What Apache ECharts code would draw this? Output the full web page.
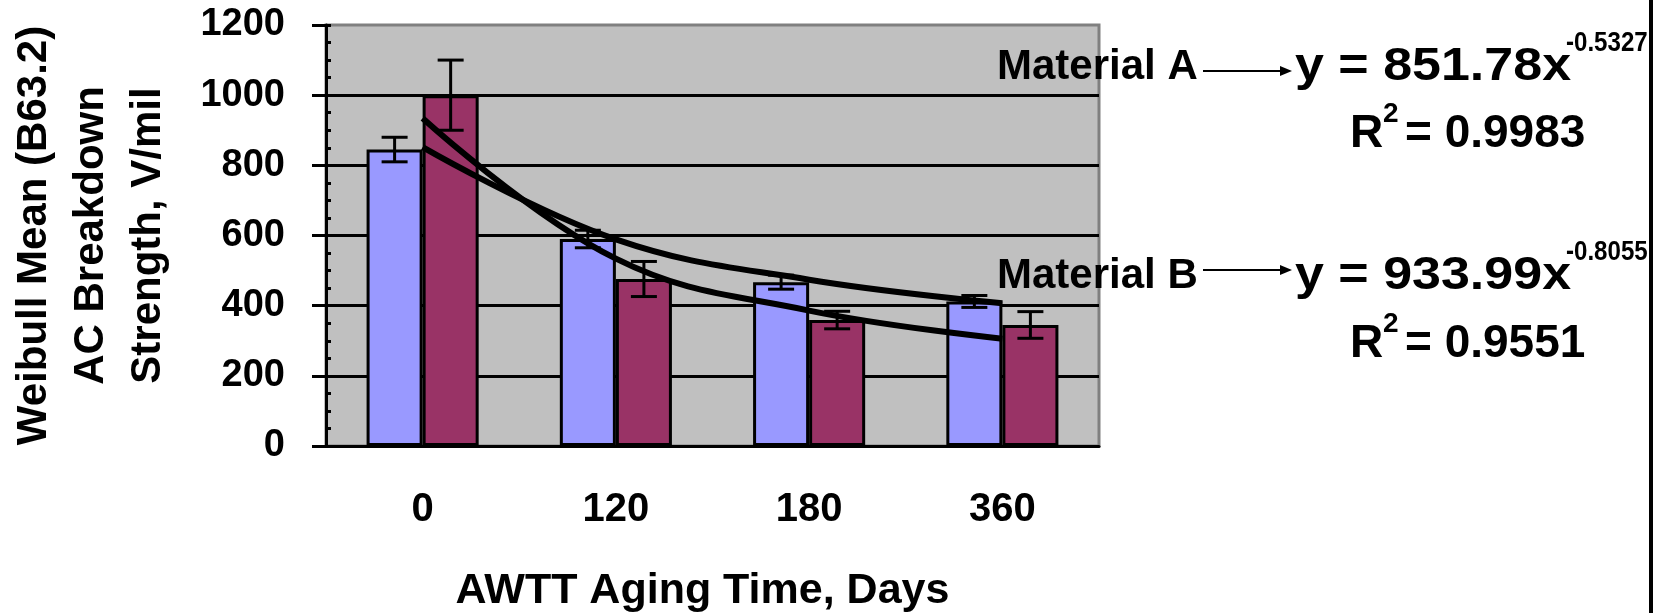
<!DOCTYPE html>
<html>
<head>
<meta charset="utf-8">
<script src="https://cdn.jsdelivr.net/npm/echarts@6/dist/echarts.min.js"></script>
<style>
  html, body { margin: 0; padding: 0; background: #fff; }
  #main { width: 1658px; height: 613px; }
</style>
</head>
<body>
<div id="main"></div>
<script>
// aging time categories (days)
var categories = ['0', '120', '180', '360'];
// Weibull mean breakdown strength, V/mil
var materialA = [845, 590, 467, 412];
var materialAErr = [35, 25, 20, 17];
var materialB = [1000, 476, 359, 345];
var materialBErr = [100, 50, 25, 38];
// power trend lines at the category centres
var trendA = [852, 589, 474, 407];
var trendB = [934, 534, 386, 306];
var yMin = 0, yMax = 1200, yStep = 200, yMinorStep = 50;

var FONT = '"Liberation Sans", Arial, sans-serif';
var GAP = 0.42;

var chart = echarts.init(document.getElementById('main'));

function errData(vals, errs) {
    return vals.map(function (v, i) { return [i, v - errs[i], v + errs[i]]; });
}

function errorBars(side) {
    return function (params, api) {
        var i = api.value(0);
        var lo = api.coord([i, api.value(1)]);
        var hi = api.coord([i, api.value(2)]);
        var bw = api.size([1, 0])[0] * (1 - GAP) / 2;
        var x = lo[0] + side * bw / 2;
        var cap = 13;
        var st = { stroke: '#000', lineWidth: 3 };
        return {
            type: 'group',
            children: [
                { type: 'line', shape: { x1: x, y1: lo[1], x2: x, y2: hi[1] }, style: st },
                { type: 'line', shape: { x1: x - cap, y1: lo[1], x2: x + cap, y2: lo[1] }, style: st },
                { type: 'line', shape: { x1: x - cap, y1: hi[1], x2: x + cap, y2: hi[1] }, style: st }
            ]
        };
    };
}

function txt(text, x, y, size, extra) {
    var style = {
        text: text, x: 0, y: 0,
        fontSize: size, fontWeight: 'bold', fontFamily: FONT,
        fill: '#000',
        align: 'left', verticalAlign: 'middle',
        textAlign: 'left', textVerticalAlign: 'middle'
    };
    var el = { type: 'text', x: x, y: y, z: 100, style: style };
    if (extra) {
        for (var k in extra) {
            if (k === 'scaleX') el.scaleX = extra[k];
            else style[k] = extra[k];
        }
    }
    return el;
}

function arrow(x1, x2, y) {
    return [
        { type: 'line', z: 100, shape: { x1: x1, y1: y, x2: x2 - 10, y2: y }, style: { stroke: '#000', lineWidth: 2 } },
        { type: 'polygon', z: 100, shape: { points: [[x2 - 12, y - 5], [x2, y], [x2 - 12, y + 5]] }, style: { fill: '#000' } }
    ];
}

var shadow = { textShadowColor: '#fff', textShadowOffsetX: 2, textShadowOffsetY: 2, textShadowBlur: 0 };
var wide = { scaleX: 1.13 };
var narrow = { scaleX: 0.86 };

var graphics = [
    txt('Material A', 997, 67, 42, shadow),
    txt('y = 851.78x', 1295, 67, 46, wide),
    txt('-0.5327', 1566, 43, 28, narrow),
    txt('R', 1350, 134, 46),
    txt('2', 1383, 114, 28),
    txt('= 0.9983', 1405, 134, 46),
    txt('Material B', 997, 276, 42, shadow),
    txt('y = 933.99x', 1295, 276, 46, wide),
    txt('-0.8055', 1566, 252, 28, narrow),
    txt('R', 1350, 344, 46),
    txt('2', 1383, 324, 28),
    txt('= 0.9551', 1405, 344, 46),
    { type: 'line', z: 100, shape: { x1: 1651, y1: 0, x2: 1651, y2: 613 }, style: { stroke: '#000', lineWidth: 4 } }
].concat(arrow(1203, 1292, 71)).concat(arrow(1203, 1292, 270));

var option = {
    backgroundColor: '#fff',
    animation: false,
    grid: {
        left: 326, top: 25, right: 559, bottom: 167,
        outerBoundsMode: 'none',
        show: true,
        backgroundColor: '#C0C0C0',
        borderColor: '#808080',
        borderWidth: 3
    },
    xAxis: {
        type: 'category',
        data: categories,
        name: 'AWTT Aging Time, Days',
        nameLocation: 'middle',
        nameGap: 124,
        nameTextStyle: { fontSize: 43, fontWeight: 'bold', fontFamily: FONT, color: '#000', padding: [0, 20, 0, 0] },
        axisLine: { lineStyle: { color: '#000', width: 3 } },
        axisTick: { length: 12, lineStyle: { color: '#000', width: 3 } },
        axisLabel: { margin: 44, fontSize: 40, fontWeight: 'bold', fontFamily: FONT, color: '#000' },
        splitLine: { show: false }
    },
    yAxis: [{
        type: 'value',
        min: yMin, max: yMax, interval: yStep,
        name: 'Weibull Mean (B63.2)\nAC Breakdown\nStrength, V/mil',
        nameLocation: 'middle',
        nameRotate: 90,
        nameGap: 149,
        nameTextStyle: { fontSize: 42, fontWeight: 'bold', fontFamily: FONT, color: '#000', lineHeight: 57 },
        axisLine: { show: true, lineStyle: { color: '#000', width: 3 } },
        axisTick: { show: true, length: 14, lineStyle: { color: '#000', width: 3 } },
        axisLabel: {
            margin: 41, fontSize: 38, fontWeight: 'bold', fontFamily: FONT, color: '#000',
            formatter: function (v) { return String(v); }
        },
        splitLine: { show: true, showMaxLine: false, lineStyle: { color: '#000', width: 3 } }
    }, {
        // short inside ticks every 50
        type: 'value',
        position: 'left',
        min: yMin, max: yMax, interval: yMinorStep,
        axisLine: { show: false },
        axisTick: { show: true, inside: true, length: 5, lineStyle: { color: '#000', width: 3 } },
        axisLabel: { show: false },
        splitLine: { show: false }
    }],
    series: [
        {
            name: 'Material A', type: 'bar', data: materialA,
            barGap: '0%', barCategoryGap: (GAP * 100) + '%',
            itemStyle: { color: '#9999FF', borderColor: '#000', borderWidth: 3 },
            z: 2
        },
        {
            name: 'Material B', type: 'bar', data: materialB,
            itemStyle: { color: '#993366', borderColor: '#000', borderWidth: 3 },
            z: 2
        },
        {
            type: 'custom', renderItem: errorBars(-1), data: errData(materialA, materialAErr),
            encode: { x: 0, y: [1, 2] }, z: 3
        },
        {
            type: 'custom', renderItem: errorBars(1), data: errData(materialB, materialBErr),
            encode: { x: 0, y: [1, 2] }, z: 3
        },
        {
            type: 'line', data: trendA, smooth: 0.4, symbol: 'none',
            lineStyle: { color: '#000', width: 6 }, z: 4
        },
        {
            type: 'line', data: trendB, smooth: 0.4, symbol: 'none',
            lineStyle: { color: '#000', width: 6 }, z: 4
        }
    ],
    graphic: graphics
};

chart.setOption(option);
</script>
</body>
</html>
